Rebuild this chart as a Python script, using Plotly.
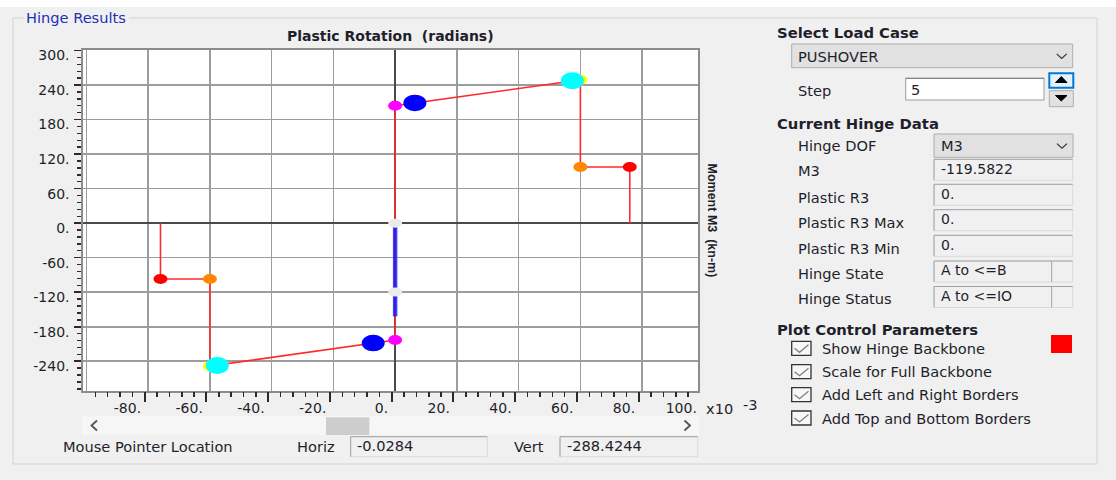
import plotly.graph_objects as go

W, H = 1116, 480

# ---------------- data (rotation in 1e-3 rad, moment in kN-m) ----------------
backbone_rot = [-76.0, -76.0, -60.0, -60.0, 0.0, 0.0, 60.0, 60.0, 76.0, 76.0]
backbone_mom = [0.0, -97.0, -97.0, -248.5, -203.0, 204.0, 249.0, 97.5, 97.5, 0.0]

# hinge state points on the backbone
b_rot, b_mom = [0.0, 0.0], [204.0, -203.0]        # B (magenta)
c_rot, c_mom = [60.0, -60.0], [249.0, -248.5]     # C (yellow)
d_rot, d_mom = [60.0, -60.0], [97.5, -97.0]       # D (orange)
e_rot, e_mom = [76.0, -76.0], [97.5, -97.0]       # E (red)
io_rot, io_mom = [6.4, -7.1], [209.0, -208.5]     # IO (blue)
ls_rot, ls_mom = [57.4, -57.6], [247.5, -247.5]   # LS (cyan)

# hinge response path and current step
m3_value = -119.5822
resp_rot, resp_mom = [0.0, 0.0], [0.0, -162.0]
cur_rot, cur_mom = [0.0, 0.0], [0.0, m3_value]

x_tick_vals = [-80, -60, -40, -20, 0, 20, 40, 60, 80, 100]
x_tick_text = ["-80.", "-60.", "-40.", "-20.", "0.", "20.", "40.", "60.", "80.", "100."]
y_tick_vals = [-240, -180, -120, -60, 0, 60, 120, 180, 240, 300]
y_tick_text = ["-240.", "-180.", "-120.", "-60.", "0.", "60.", "120.", "180.", "240.", "300."]

hinge_labels = ["M3", "Plastic R3", "Plastic R3 Max", "Plastic R3 Min", "Hinge State", "Hinge Status"]
hinge_values = [f"{m3_value:.4f}", "0.", "0.", "0.", "A to &lt;=B", "A to &lt;=IO"]
check_labels = ["Show Hinge Backbone", "Scale for Full Backbone",
                "Add Left and Right Borders", "Add Top and Bottom Borders"]

# ---------------- styling ----------------
FONT = "DejaVu Sans"
TXT = "#1f1f2b"
BG = "#f0f0f0"
FS = 14.6      # body text size
FSB = 14.8     # bold heading size

# plot window in pixels
PL, PR, PT, PB = 83.3, 698.0, 50.0, 391.0
xr = [-101.0, 98.1]
yr = [-291.7, 300.9]
ppu = (PR - PL) / (xr[1] - xr[0])


def px(x):
    return x / W


def py(y):
    return 1 - y / H


shapes = []
annotations = []


def rect(x0, y0, x1, y1, fill=None, line=None, lw=1, layer="above"):
    shapes.append(dict(type="rect", xref="paper", yref="paper",
                       x0=px(x0), x1=px(x1), y0=py(y1), y1=py(y0),
                       fillcolor=fill or "rgba(0,0,0,0)",
                       line=dict(color=line or "rgba(0,0,0,0)", width=lw if line else 0),
                       layer=layer))


def seg(x0, y0, x1, y1, color, lw=1):
    shapes.append(dict(type="line", xref="paper", yref="paper",
                       x0=px(x0), y0=py(y0), x1=px(x1), y1=py(y1),
                       line=dict(color=color, width=lw), layer="above"))


def path(points, color, lw=1.0, fill=None, closed=False):
    d = "M " + " L ".join(f"{px(x):.5f},{py(y):.5f}" for x, y in points)
    if closed:
        d += " Z"
    shapes.append(dict(type="path", xref="paper", yref="paper", path=d,
                       line=dict(color=color, width=lw),
                       fillcolor=fill or "rgba(0,0,0,0)", layer="above"))


def text(x, y, s, size=FS, bold=False, color=TXT, anchor="left", angle=0, family=FONT):
    annotations.append(dict(xref="paper", yref="paper", x=px(x), y=py(y),
                            text=f"<b>{s}</b>" if bold else s, showarrow=False,
                            xanchor=anchor, yanchor="middle", textangle=angle,
                            borderpad=0,
                            font=dict(family=family, size=size, color=color)))


def sunken(x0, y0, x1, y1, fill=BG):
    rect(x0, y0, x1, y1, fill=fill, line="#dadada")
    seg(x0, y0, x1, y0, "#a3a3a3")
    seg(x0, y0, x0, y1, "#a3a3a3")


def dropdown(x0, y0, x1, y1):
    rect(x0, y0, x1, y1, fill="#e1e1e1", line="#adadad")
    cy = (y0 + y1) / 2
    path([(x1 - 16, cy - 2), (x1 - 11, cy + 2.5), (x1 - 6, cy - 2)], "#333333", 1.2)


def ellipse(xv, yv, w, h, color):
    shapes.append(dict(type="circle", xref="x", yref="y",
                       xsizemode="pixel", ysizemode="pixel",
                       xanchor=xv, yanchor=yv,
                       x0=-w / 2, x1=w / 2, y0=-h / 2, y1=h / 2,
                       fillcolor=color, line=dict(width=0), layer="above"))


# ---------------- window chrome ----------------
rect(0, 0, W, 7, fill="#ffffff", layer="below")
# white plotting window
rect(PL, PT, PR, PB, fill="#ffffff", layer="below")
# group box "Hinge Results"
for a in [(13, 18, 24, 18), (129, 18, 1097, 18), (13, 18, 13, 464),
          (1097, 18, 1097, 464), (13, 464, 1097, 464)]:
    seg(*a, "#d3d3d3")
text(25, 18, "Hinge Results", color="#2232b0")

# chart titles
text(390.5, 36, "Plastic Rotation\u00a0\u00a0(radians)", size=14, bold=True, anchor="center")
text(711.5, 220, "Moment M3\u00a0\u00a0(kn-m)", size=12.5, bold=True, angle=90,
     anchor="center", family="Liberation Sans")
text(705, 408.5, "x10")
text(742, 404.5, "-3")

# scroll bar under the chart
rect(82, 416, 699, 435, fill="#f6f6f6")
rect(326, 417.3, 369.3, 435, fill="#cdcdcd")
path([(97, 420.5), (91.5, 425.5), (97, 430.5)], "#555555", 1.8)
path([(684.5, 420.5), (690, 425.5), (684.5, 430.5)], "#555555", 1.8)

# mouse pointer readout
text(62, 446, "Mouse Pointer Location")
text(296, 446, "Horiz")
sunken(350.7, 436.7, 487.3, 456.7)
text(356, 445.5, "-0.0284")
text(512.5, 446, "Vert")
sunken(560, 436.7, 697.7, 456.7)
text(565.5, 445.5, "-288.4244")

# ---------------- right panel ----------------
text(776, 32.5, "Select Load Case", size=FSB, bold=True)
dropdown(791.7, 44, 1072.7, 67.7)
text(797, 56, "PUSHOVER")
text(797, 90, "Step")
rect(905.7, 78.3, 1044, 100, fill="#ffffff", line="#9a9a9a")
seg(905.7, 78.3, 1044, 78.3, "#7a7a7a")
text(909.5, 89, "5")
rect(1049.3, 73.3, 1073.3, 87.7, fill="#e5f1fb", line="#0078d7", lw=2)
path([(1055.5, 82.5), (1061.3, 76.5), (1067, 82.5)], "#000000", 1, fill="#000000", closed=True)
rect(1049.3, 90.7, 1073.3, 106.7, fill="#e1e1e1", line="#adadad")
path([(1055.5, 95.5), (1061.3, 101), (1067, 95.5)], "#000000", 1, fill="#000000", closed=True)

text(776, 123.5, "Current Hinge Data", size=FSB, bold=True)
text(797, 145.5, "Hinge DOF")
dropdown(934, 134, 1073, 157.3)
text(940, 145.5, "M3")

box_tops = [159.3, 184.3, 209.7, 235.3, 261.0, 286.5]
label_y = [171, 197, 222, 248, 273.5, 298.5]
for i, (lab, val) in enumerate(zip(hinge_labels, hinge_values)):
    t = box_tops[i]
    sunken(934, t, 1072.7, t + 21)
    if i >= 4:
        seg(1051.7, t, 1051.7, t + 21, "#a3a3a3")
    text(797, label_y[i], lab)
    text(939.5, t + 9.3, val, size=14)

text(776, 329, "Plot Control Parameters", size=FSB, bold=True)
rect(1051, 335, 1072, 353, fill="#ff0000")
check_y = [348.3, 371.7, 394.7, 418.0]
for cy, lab in zip(check_y, check_labels):
    rect(791.7, cy - 7, 811, cy + 7, fill="#f7f7f7", line="#333333", lw=1.3)
    path([(794.5, cy), (799.5, cy + 4), (808.5, cy - 3.5)], "#808080", 1.3)
    text(820.5, cy, lab)

# ---------------- hinge plot ----------------
fig = go.Figure()
fig.add_trace(go.Scatter(x=backbone_rot, y=backbone_mom, mode="lines",
                         line=dict(color="#ff2b2b", width=1.6),
                         hoverinfo="skip", showlegend=False))
fig.add_trace(go.Scatter(x=resp_rot, y=resp_mom, mode="lines",
                         line=dict(color="rgba(25,25,255,0.82)", width=4.5),
                         hoverinfo="skip", showlegend=False))
# empty traces so the tick / label axes get drawn
fig.add_trace(go.Scatter(x=[], y=[], xaxis="x2", yaxis="y2", showlegend=False))
fig.add_trace(go.Scatter(x=[], y=[], xaxis="x3", yaxis="y", showlegend=False))

for xs, ys, w, h, col in [
    (c_rot, c_mom, 14, 10, "#ffff00"),
    (ls_rot, ls_mom, 23, 17, "#00ffff"),
    (b_rot, b_mom, 14, 10, "#ff00ff"),
    (io_rot, io_mom, 23, 16.5, "#0000ff"),
    (d_rot, d_mom, 14, 10, "#ff8800"),
    (e_rot, e_mom, 14, 10, "#ff0000"),
    (cur_rot, cur_mom, 14, 9, "#ebebeb"),
]:
    for xv, yv in zip(xs, ys):
        ellipse(xv, yv, w, h, col)

dom_x = [PL / W, PR / W]
dom_y = [1 - PB / H, 1 - PT / H]
tick_shift = 3.4 / ppu       # tick marks sit slightly left of the grid
label_shift = 7.0 / ppu      # labels end just left of their tick
extra = 18.0                 # label axis reaches past the window edge

fig.update_layout(
    width=W, height=H, autosize=False,
    margin=dict(l=0, r=0, t=0, b=0, pad=0),
    paper_bgcolor=BG, plot_bgcolor="rgba(0,0,0,0)",
    showlegend=False,
    xaxis=dict(domain=dom_x, range=xr, anchor="y", fixedrange=True, automargin=False,
               tickmode="linear", tick0=0, dtick=20,
               showgrid=True, gridcolor="#9d9d9d", gridwidth=1.6,
               zeroline=True, zerolinecolor="#4a4a4a", zerolinewidth=1.6,
               showline=True, mirror=True, linecolor="#8c8c8c", linewidth=2,
               ticks="", showticklabels=False),
    xaxis3=dict(overlaying="x", anchor="y", fixedrange=True, automargin=False,
                range=[xr[0] + tick_shift, xr[1] + tick_shift],
                tickmode="linear", tick0=0, dtick=20,
                ticks="outside", ticklen=10, tickwidth=2, tickcolor="#2a2a2a",
                minor=dict(ticks="outside", tickmode="linear", tick0=0, dtick=4,
                           ticklen=5, tickwidth=1.5, tickcolor="#2a2a2a", showgrid=False),
                showticklabels=False, showgrid=False, zeroline=False, showline=False),
    xaxis2=dict(anchor="y2", fixedrange=True, automargin=False,
                domain=[PL / W, (PR + extra) / W],
                range=[xr[0] + label_shift, xr[1] + label_shift + extra / ppu],
                tickmode="array", tickvals=x_tick_vals, ticktext=x_tick_text,
                ticks="", ticklabelposition="outside left", ticklabelstandoff=7,
                tickfont=dict(family=FONT, size=14, color=TXT),
                showgrid=False, zeroline=False, showline=False),
    yaxis2=dict(anchor="x2", domain=dom_y, range=yr, fixedrange=True, automargin=False,
                showgrid=False, zeroline=False, showline=False, ticks="",
                showticklabels=False),
    yaxis=dict(domain=dom_y, range=yr, anchor="x", fixedrange=True, automargin=False,
               tickmode="array", tickvals=y_tick_vals, ticktext=y_tick_text,
               showgrid=True, gridcolor="#9d9d9d", gridwidth=1.6,
               zeroline=True, zerolinecolor="#4a4a4a", zerolinewidth=1.6,
               showline=True, mirror=True, linecolor="#8c8c8c", linewidth=2,
               ticks="outside", ticklen=7, tickwidth=1.6, tickcolor="#2a2a2a",
               minor=dict(ticks="outside", tickmode="linear", tick0=0, dtick=12,
                          ticklen=4, tickwidth=1.4, tickcolor="#2a2a2a", showgrid=False),
               tickfont=dict(family=FONT, size=14, color=TXT),
               ticklabelstandoff=2, ticklabelshift=5),
    shapes=shapes,
    annotations=annotations,
)

fig.write_html("out.html", config={"displayModeBar": False, "staticPlot": True})
